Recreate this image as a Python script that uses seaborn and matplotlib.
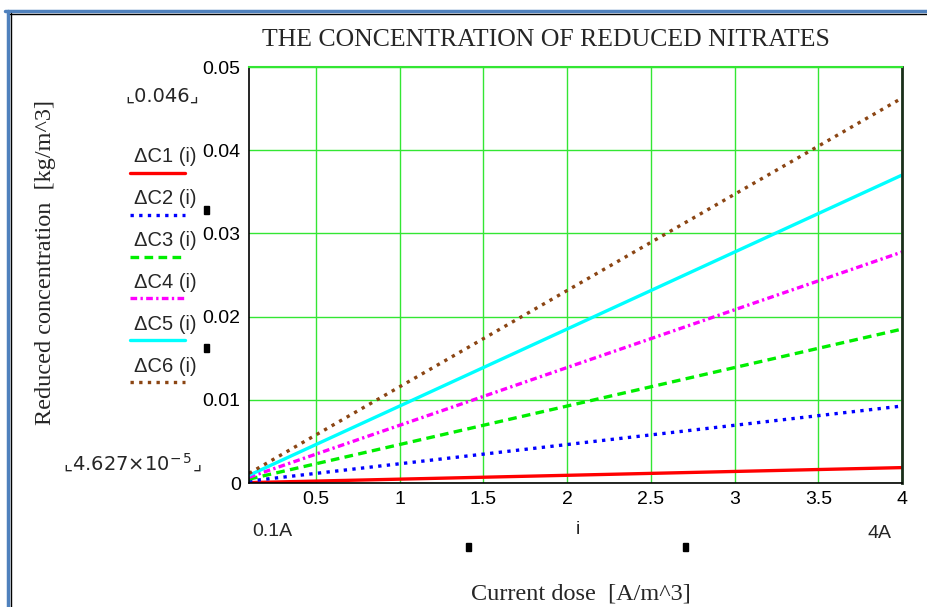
import numpy as np
import pandas as pd
import seaborn as sns
import matplotlib.pyplot as plt
from matplotlib.lines import Line2D
from matplotlib.patches import Rectangle

# current dose i [A/m^3] - the lines are straight, so the two ends are enough
dose = [0.1, 4.0]
dc1 = [4.627e-5, 0.00185]
dc2 = [2.31e-4, 0.00925]
dc3 = [4.63e-4, 0.0185]
dc4 = [6.94e-4, 0.02776]
dc5 = [9.25e-4, 0.03701]
dc6 = [0.001157, 0.04627]

names = ["ΔC1 (i)", "ΔC2 (i)", "ΔC3 (i)", "ΔC4 (i)", "ΔC5 (i)", "ΔC6 (i)"]
colors = ["#ff0000", "#0000ff", "#00ee00", "#ff00ff", "#00ffff", "#8b4513"]
dashes = [(None, None), (1.0, 1.6), (2.6, 1.6), (2.0, 1.0, 0.7, 1.0), (None, None), (1.0, 1.6)]

x_ticks = [0.5, 1, 1.5, 2, 2.5, 3, 3.5, 4]
x_ticklabels = ["0.5", "1", "1.5", "2", "2.5", "3", "3.5", "4"]
y_ticks = [0, 0.01, 0.02, 0.03, 0.04, 0.05]
y_ticklabels = ["0", "0.01", "0.02", "0.03", "0.04", "0.05"]

sns.set_style("white")
plt.rcParams["font.family"] = ["Liberation Sans", "DejaVu Sans"]

W, H = 927, 607
fig = plt.figure(figsize=(W / 100, H / 100), dpi=100)


def fx(px):
    return px / W


def fy(py):
    return 1 - py / H


ax = fig.add_axes([fx(249), fy(483), fx(902) - fx(249), fy(67) - fy(483)])

series = [dc1, dc2, dc3, dc4, dc5, dc6]
for name, vals, col, ds in zip(names, series, colors, dashes):
    df = pd.DataFrame({"i": dose, "dc": vals})
    sns.lineplot(data=df, x="i", y="dc", ax=ax, color=col, lw=2.4, legend=False)
    if ds[0] is not None:
        ax.lines[-1].set_dashes(ds)

ax.set_xlim(0.1, 4)
ax.set_ylim(0, 0.05)
ax.set_xticks(x_ticks)
ax.set_xticklabels(x_ticklabels)
ax.set_yticks(y_ticks)
ax.set_yticklabels(y_ticklabels)
ax.tick_params(length=0, labelsize=14, pad=6, colors="black")
ax.set_xlabel("")
ax.set_ylabel("")
ax.grid(True, color="#33e633", lw=1)
ax.set_axisbelow(True)
for s in ["left", "bottom", "right"]:
    ax.spines[s].set_color("black")
    ax.spines[s].set_linewidth(1.2)
ax.spines["right"].set_color("#1a2e1a")
ax.spines["right"].set_linewidth(2)
ax.spines["top"].set_color("#33e633")
ax.spines["top"].set_linewidth(1.5)

serif = ["Liberation Serif", "DejaVu Serif"]
fig.text(fx(546), fy(40), "THE CONCENTRATION OF REDUCED NITRATES",
         ha="center", va="center", fontsize=18.5, family=serif)
fig.text(fx(46), fy(263), "Reduced concentration  [kg/m^3]", rotation=90,
         ha="center", va="center", fontsize=17.5, family=serif)
fig.text(fx(581), fy(594), "Current dose  [A/m^3]",
         ha="center", va="center", fontsize=17.5, family=serif)

fig.text(fx(272), fy(532), "0.1A", ha="center", va="center", fontsize=14)
fig.text(fx(578), fy(530), "i", ha="center", va="center", fontsize=14)
fig.text(fx(880), fy(533), "4A", ha="center", va="center", fontsize=14)

# limits shown by the editor, with corner brackets
fig.text(fx(162), fy(96), "\u231e0.046\u231f", ha="center", va="center", fontsize=14,
         family=["DejaVu Sans"])
fig.text(fx(132), fy(463), "\u231e4.627\u00d710$^{-\\,5}$\u231f",
         ha="center", va="center", fontsize=14, family=["DejaVu Sans"])

# legend in the Mathcad style, labels over line samples
for k, (name, col, ds) in enumerate(zip(names, colors, dashes)):
    fig.text(fx(134), fy(156 + 42 * k), name, ha="left", va="center", fontsize=14.5)
    yy = fy(173 + 41.8 * k)
    ln = Line2D([fx(130), fx(185)], [yy, yy], color=col, lw=2.4, transform=fig.transFigure)
    if ds[0] is not None:
        ln.set_dashes(ds)
    fig.add_artist(ln)

# small black markers left by the plot editor
for (px, py) in [(204, 206), (204, 344), (466, 543), (683, 543)]:
    fig.add_artist(Rectangle((fx(px), fy(py + 8)), 5 / W, 8 / H, color="black",
                             transform=fig.transFigure))

# frame of the plot region
fig.add_artist(Line2D([fx(5), fx(927)], [fy(11), fy(11)], color="#4f81bd", lw=2.5,
                      transform=fig.transFigure))
fig.add_artist(Line2D([fx(8), fx(8)], [fy(11), fy(607)], color="#4f81bd", lw=2.5,
                      transform=fig.transFigure))
fig.add_artist(Line2D([fx(10), fx(927)], [fy(13.5), fy(13.5)], color="black", lw=1,
                      transform=fig.transFigure))
fig.add_artist(Line2D([fx(10.5), fx(10.5)], [fy(13), fy(607)], color="black", lw=1,
                      transform=fig.transFigure))

fig.savefig("out.png", dpi=100)
